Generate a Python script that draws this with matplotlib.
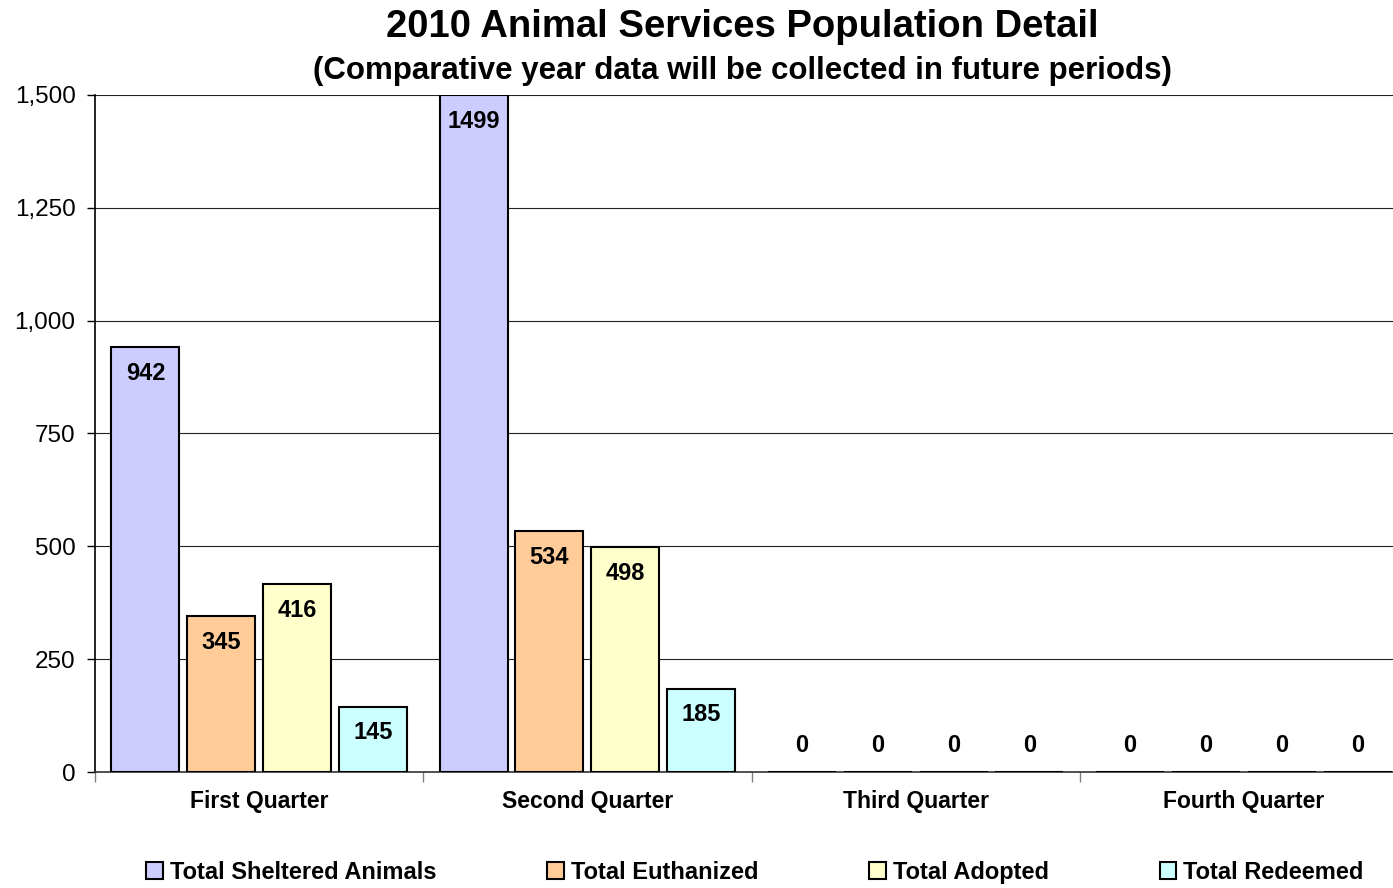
import numpy as np
import matplotlib
matplotlib.use('Agg')
import matplotlib.pyplot as plt
from matplotlib.ticker import FuncFormatter

plt.rcParams['font.family'] = ['Liberation Sans', 'DejaVu Sans']

quarters = ['First Quarter', 'Second Quarter', 'Third Quarter', 'Fourth Quarter']
sheltered = [942, 1499, 0, 0]
euthanized = [345, 534, 0, 0]
adopted = [416, 498, 0, 0]
redeemed = [145, 185, 0, 0]
series_names = ['Total Sheltered Animals', 'Total Euthanized', 'Total Adopted', 'Total Redeemed']
colors = ['#ccccff', '#ffcc99', '#ffffcc', '#ccffff']

fig = plt.figure(figsize=(13.93, 8.88), dpi=100)
ax = fig.add_axes([95/1393, 1-772/888, 1313/1393, 677/888])

x = np.arange(len(quarters))
width = 0.207
step = 0.231
for k, (vals, name, c) in enumerate(zip([sheltered, euthanized, adopted, redeemed], series_names, colors)):
    pos = x + (k - 1.5) * step
    ax.bar(pos, vals, width, color=c, edgecolor='black', linewidth=1.5, label=name, zorder=3)
    for p, v in zip(pos, vals):
        if v > 0:
            ax.text(p, v - 58, str(v), ha='center', va='center', fontsize=17, fontweight='bold', zorder=4)
        else:
            ax.text(p, 58, str(v), ha='center', va='center', fontsize=17, fontweight='bold', zorder=4)

ax.set_xlim(-0.5, 3.5)
ax.set_ylim(0, 1500)
ax.set_yticks(np.arange(0, 1501, 250))
ax.yaxis.set_major_formatter(FuncFormatter(lambda v, p: '{:,.0f}'.format(v)))
ax.yaxis.grid(True, color='#222222', linewidth=0.8, zorder=0)
ax.set_xticks(x)
ax.set_xticklabels(quarters, fontsize=16.5, fontweight='bold')
ax.set_xticks(np.arange(-0.5, 3.6, 1), minor=True)
ax.tick_params(axis='x', which='major', length=0, pad=13)
ax.tick_params(axis='x', which='minor', length=7, color='#808080', width=1)
ax.tick_params(axis='y', length=6, width=1, labelsize=17.5, pad=8)
for s in ['top', 'right']:
    ax.spines[s].set_visible(False)
ax.spines['left'].set_linewidth(1.2)
ax.spines['bottom'].set_linewidth(1.2)
ax.spines['bottom'].set_color('#333333')

fig.text(0.533, 1-27/888, '2010 Animal Services Population Detail', ha='center', va='center',
         fontsize=27.5, fontweight='bold')
fig.text(0.533, 1-71/888, '(Comparative year data will be collected in future periods)', ha='center',
         va='center', fontsize=22.5, fontweight='bold')

handles, labels = ax.get_legend_handles_labels()
fig.legend(handles, labels, loc='center', bbox_to_anchor=(0.542, 1-872/888), ncol=4, frameon=False,
           prop={'weight': 'bold', 'size': 17}, handlelength=0.7, handleheight=0.7,
           handletextpad=0.3, columnspacing=4.7)

fig.savefig('out.png', dpi=100)
